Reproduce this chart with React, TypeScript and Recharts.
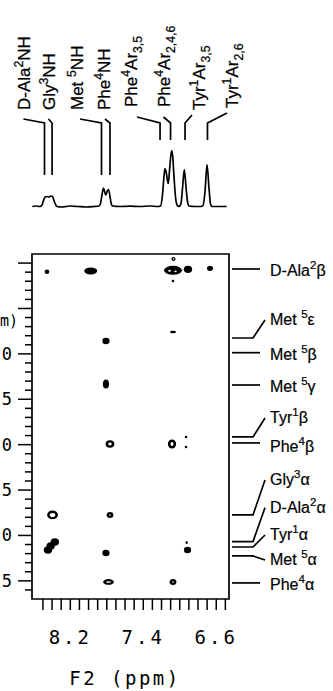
import React from "react";
import {
  ComposedChart,
  Line,
  Scatter,
  XAxis,
  YAxis,
  ReferenceArea,
} from "recharts";

// axis ranges (ppm)
const F2_DOMAIN: [number, number] = [6.46, 8.62];
const F1_DOMAIN: [number, number] = [0.9, 4.7];

const xTicks = [
  8.5, 8.4, 8.3, 8.2, 8.1, 8.0, 7.9, 7.8, 7.7, 7.6, 7.5, 7.4, 7.3, 7.2, 7.1,
  7.0, 6.9, 6.8, 6.7, 6.6, 6.5,
];
const xTickLabels = ["8.2", "7.4", "6.6"];
const yTicks = [
  1.0, 1.1, 1.2, 1.3, 1.4, 1.5, 1.6, 1.7, 1.8, 1.9, 2.0, 2.1, 2.2, 2.3, 2.4,
  2.5, 2.6, 2.7, 2.8, 2.9, 3.0, 3.1, 3.2, 3.3, 3.4, 3.5, 3.6, 3.7, 3.8, 3.9,
  4.0, 4.1, 4.2, 4.3, 4.4, 4.5, 4.6,
];
// the figure is cropped on the left: only the last digit of each label shows
const yTickLabels = ["2.0", "2.5", "3.0", "3.5", "4.0", "4.5"];
const yTitleVisible = "m)";

// 1D trace
const traceF2 = [
  8.617, 8.576, 8.532, 8.51, 8.494, 8.477, 8.456, 8.434, 8.412, 8.395, 8.379,
  8.362, 8.346, 8.291, 8.203, 8.116, 8.028, 7.94, 7.885, 7.869, 7.852, 7.837,
  7.824, 7.811, 7.797, 7.783, 7.768, 7.754, 7.737, 7.655, 7.545, 7.436, 7.326,
  7.238, 7.211, 7.189, 7.173, 7.162, 7.148, 7.135, 7.126, 7.113, 7.099, 7.088,
  7.077, 7.063, 7.047, 7.03, 7.008, 6.986, 6.97, 6.95, 6.932, 6.915, 6.899,
  6.833, 6.767, 6.745, 6.723, 6.701, 6.679, 6.663, 6.646, 6.559, 6.485,
];
const traceInt = [
  0, 0.5, 0, 1.5, 6, 9.5, 10, 9.5, 10.5, 10, 6, 2, 0, -0.5, 0.5, 0, -0.5, 0,
  0.5, 3, 12, 18.5, 15, 11.5, 15, 17, 12, 4, 0.5, 0, 0.3, 0, 0.5, 0, 0.5, 12,
  30, 38, 34, 26, 23, 35, 50, 56, 50, 30, 10, 1.5, 0, 3, 18, 37, 20, 5, 0.5, 0,
  0, 1, 15, 42, 18, 3, 0, 0, 0,
];

// assignments on the 1D trace
const topNames = [
  "D-Ala^2NH",
  "Gly^3NH",
  "Met ^5NH",
  "Phe^4NH",
  "Phe^4Ar_{3,5}",
  "Phe^4Ar_{2,4,6}",
  "Tyr^1Ar_{3,5}",
  "Tyr^1Ar_{2,6}",
];
const topPeakF2 = [8.483, 8.4, 7.858, 7.765, 7.216, 7.101, 6.942, 6.696];

// cross peaks (F2, F1)
const crossF2 = [
  8.456, 7.976, 7.074, 7.069, 7.074, 6.91, 6.668, 7.809, 7.074, 7.809, 7.765,
  7.085, 6.931, 6.931, 8.395, 7.765, 8.445, 8.415, 8.37, 7.809, 6.915, 6.924,
  7.781, 7.074,
];
const crossF1 = [
  1.095, 1.087, 1.08, 0.955, 1.197, 1.069, 1.058, 1.858, 1.759, 2.332, 2.993,
  2.993, 2.915, 3.026, 3.774, 3.774, 4.16, 4.115, 4.072, 4.193, 4.16, 4.079,
  4.512, 4.512,
];
const crossKind = [
  "dot", "wide", "cluster", "ringTiny", "tiny", "big", "small", "med", "dash",
  "tall", "ring", "ringTall", "tiny", "tiny", "ringBig", "ringSmall", "big",
  "big", "big", "med", "med", "tiny", "ringWide", "ringSmall",
];

// F1 assignments on the right
const rightNames = [
  "D-Ala^2β",
  "Met ^5ε",
  "Met ^5β",
  "Met ^5γ",
  "Tyr^1β",
  "Phe^4β",
  "Gly^3α",
  "D-Ala^2α",
  "Tyr^1α",
  "Met ^5α",
  "Phe^4α",
];
const rightF1 = [
  1.065, 1.825, 1.987, 2.343, 2.915, 2.981, 3.774, 4.068, 4.127, 4.226, 4.523,
];

// label layout (pixels)
const topTextX = [30, 55, 83, 110, 137, 170, 205, 238];
const topTextY = [110, 110, 110, 110, 107, 107, 110, 108];
const topLeadX = [23.5, 48.5, 80, 105, 137, 163.5, 192, 227];
const topLeadY = [119, 119, 119, 119, 117, 117, 115, 113];
const topLeadEnd = [175, 175, 175, 175, 140, 140, 140, 140];
const rightDy = [7, -13, 7, 7, -14, 9, -30, -29, -7, 9, 7];
const rightBent = [false, true, false, false, true, false, true, true, true, true, false];

const peakStyle: Record<string, { rx: number; ry: number; ring?: boolean }> = {
  tiny: { rx: 1.3, ry: 1.3 },
  dot: { rx: 2.3, ry: 2.2 },
  small: { rx: 3, ry: 2.6 },
  med: { rx: 3.6, ry: 3.3 },
  big: { rx: 4.2, ry: 3.7 },
  tall: { rx: 3.1, ry: 4.5 },
  wide: { rx: 6.5, ry: 3.4 },
  dash: { rx: 3, ry: 1.2 },
  cluster: { rx: 9, ry: 4.5 },
  ring: { rx: 4.4, ry: 3.8, ring: true },
  ringTall: { rx: 4.1, ry: 4.5, ring: true },
  ringBig: { rx: 5.4, ry: 4.4, ring: true },
  ringSmall: { rx: 3.4, ry: 3, ring: true },
  ringWide: { rx: 5.4, ry: 2.9, ring: true },
  ringTiny: { rx: 2.1, ry: 2.1, ring: true },
};

const SANS = "'Liberation Sans', Arial, sans-serif";
const MONO = "'DejaVu Sans Mono', monospace";

const traceData = traceF2.map((x, i) => ({ x, y: traceInt[i] }));
const topLabelData = topPeakF2.map((x, i) => ({ x, y: 0, i }));
const crossData = crossF2.map((x, i) => ({ x, y: crossF1[i], kind: crossKind[i] }));
const rightData = rightF1.map((y, i) => ({ x: F2_DOMAIN[0], y, i }));

function richParts(s: string) {
  const parts: { t: string; k: string }[] = [];
  let buf = "";
  let i = 0;
  while (i < s.length) {
    const c = s[i];
    if (c === "^" || c === "_") {
      if (buf) parts.push({ t: buf, k: "n" });
      buf = "";
      let t = "";
      if (s[i + 1] === "{") {
        const j = s.indexOf("}", i);
        t = s.slice(i + 2, j);
        i = j + 1;
      } else {
        t = s[i + 1];
        i += 2;
      }
      parts.push({ t, k: c === "^" ? "sup" : "sub" });
    } else {
      buf += c;
      i++;
    }
  }
  if (buf) parts.push({ t: buf, k: "n" });
  return parts;
}

const RichText = ({ text, fontSize, ...rest }: any) => {
  const parts = richParts(text);
  let shift = 0;
  return (
    <text fontFamily={SANS} fill="#000" fontSize={fontSize} {...rest}>
      {parts.map((p, i) => {
        const target = p.k === "sup" ? -fontSize * 0.42 : p.k === "sub" ? fontSize * 0.3 : 0;
        const dy = target - shift;
        shift = target;
        return (
          <tspan key={i} dy={dy} fontSize={p.k === "n" ? fontSize : fontSize * 0.72}>
            {p.t}
          </tspan>
        );
      })}
    </text>
  );
};

const TopLabel = (props: any) => {
  const { cx, payload } = props;
  const i = payload.i;
  return (
    <g>
      <path
        d={`M${topLeadX[i]},${topLeadY[i]} L${cx},${123} L${cx},${topLeadEnd[i]}`}
        fill="none"
        stroke="#000"
        strokeWidth={1.7}
      />
      <RichText
        text={topNames[i]}
        fontSize={17}
        stroke="#000"
        strokeWidth={0.25}
        transform={`translate(${topTextX[i]},${topTextY[i]}) rotate(-90)`}
      />
    </g>
  );
};

const CrossPeak = (props: any) => {
  const { cx, cy, payload } = props;
  const s = peakStyle[payload.kind];
  if (payload.kind === "cluster") {
    return (
      <g>
        <ellipse cx={cx} cy={cy} rx={s.rx} ry={s.ry} fill="#000" />
        <ellipse cx={cx - 3.5} cy={cy + 0.5} rx={1.3} ry={1} fill="#fff" />
        <ellipse cx={cx + 2.5} cy={cy + 1} rx={1.2} ry={0.9} fill="#fff" />
      </g>
    );
  }
  if (s.ring) {
    // thick contour with a small open centre
    return (
      <g>
        <ellipse cx={cx} cy={cy} rx={s.rx} ry={s.ry} fill="#000" />
        <ellipse
          cx={cx}
          cy={cy}
          rx={Math.max(s.rx - 2.6, 0.8)}
          ry={Math.max(s.ry - 2.4, 0.7)}
          fill="#fff"
        />
      </g>
    );
  }
  return <ellipse cx={cx} cy={cy} rx={s.rx} ry={s.ry} fill="#000" />;
};

const RightLabel = (props: any) => {
  const { cy, payload } = props;
  const i = payload.i;
  const ty = cy + rightDy[i];
  const d = rightBent[i]
    ? `M232,${cy} L253,${cy} L265,${ty - 5}`
    : `M232,${cy} L260,${cy}`;
  return (
    <g>
      <path d={d} fill="none" stroke="#000" strokeWidth={1.7} />
      <RichText text={rightNames[i]} fontSize={16} stroke="#000" strokeWidth={0.2} x={270} y={ty} />
    </g>
  );
};

const XTick = (props: any) => {
  const { x, y, payload } = props;
  const label = Number(payload.value).toFixed(1);
  return (
    <g>
      <line x1={x} y1={y} x2={x} y2={y + 11} stroke="#000" strokeWidth={1.5} />
      {xTickLabels.includes(label) && (
        <text x={x} y={y + 45} textAnchor="middle" fontFamily={MONO} fontSize={19} letterSpacing={3} fill="#000">
          {label}
        </text>
      )}
    </g>
  );
};

const YTick = (props: any) => {
  const { x, y, payload } = props;
  const v = Number(payload.value);
  const label = v.toFixed(1);
  const major = Math.abs(v * 2 - Math.round(v * 2)) < 1e-6;
  return (
    <g>
      <line x1={x - (major ? 14 : 7)} y1={y} x2={x} y2={y} stroke="#000" strokeWidth={1.5} />
      {yTickLabels.includes(label) && (
        <text x={x - 20} y={y + 6} textAnchor="end" fontFamily={MONO} fontSize={17} fill="#000">
          {label.slice(-1)}
        </text>
      )}
    </g>
  );
};

export default function App() {
  return (
    <div style={{ position: "absolute", left: 0, top: 0, width: 333, height: 691, background: "#fff" }}>
      <div style={{ position: "absolute", left: 0, top: 0 }}>
        <ComposedChart width={333} height={230} margin={{ top: 0, right: 104, left: 32, bottom: 0 }}>
          <XAxis type="number" dataKey="x" domain={F2_DOMAIN} reversed hide height={0} />
          <YAxis type="number" dataKey="y" domain={[-23.5, 206.5]} hide width={0} />
          <Line
            data={traceData}
            dataKey="y"
            type="monotone"
            stroke="#000"
            strokeWidth={1.7}
            dot={false}
            isAnimationActive={false}
          />
          <Scatter data={topLabelData} shape={TopLabel} isAnimationActive={false} />
        </ComposedChart>
      </div>
      <div style={{ position: "absolute", left: 0, top: 230 }}>
        <ComposedChart width={333} height={461} margin={{ top: 24, right: 104, left: 0, bottom: 32 }}>
          <XAxis
            type="number"
            dataKey="x"
            domain={F2_DOMAIN}
            reversed
            ticks={xTicks}
            interval={0}
            height={60}
            tickSize={0}
            tickMargin={0}
            tickLine={false}
            axisLine={false}
            tick={XTick}
            label={{
              content: () => (
                <text x={125} y={455} textAnchor="middle" fontFamily={MONO} fontSize={19} letterSpacing={2.5} fill="#000">
                  F2 (ppm)
                </text>
              ),
            }}
          />
          <YAxis
            type="number"
            dataKey="y"
            domain={F1_DOMAIN}
            reversed
            ticks={yTicks}
            interval={0}
            width={32}
            tickSize={0}
            tickMargin={0}
            tickLine={false}
            axisLine={false}
            tick={YTick}
            label={{
              content: () => (
                <text x={0} y={96} textAnchor="start" fontFamily={MONO} fontSize={15} fill="#000">
                  {yTitleVisible}
                </text>
              ),
            }}
          />
          <ReferenceArea
            x1={F2_DOMAIN[0]}
            x2={F2_DOMAIN[1]}
            y1={F1_DOMAIN[0]}
            y2={F1_DOMAIN[1]}
            fill="none"
            fillOpacity={0}
            stroke="#000"
            strokeWidth={1.7}
          />
          <Scatter data={crossData} shape={CrossPeak} isAnimationActive={false} />
          <Scatter data={rightData} shape={RightLabel} isAnimationActive={false} />
        </ComposedChart>
      </div>
    </div>
  );
}
